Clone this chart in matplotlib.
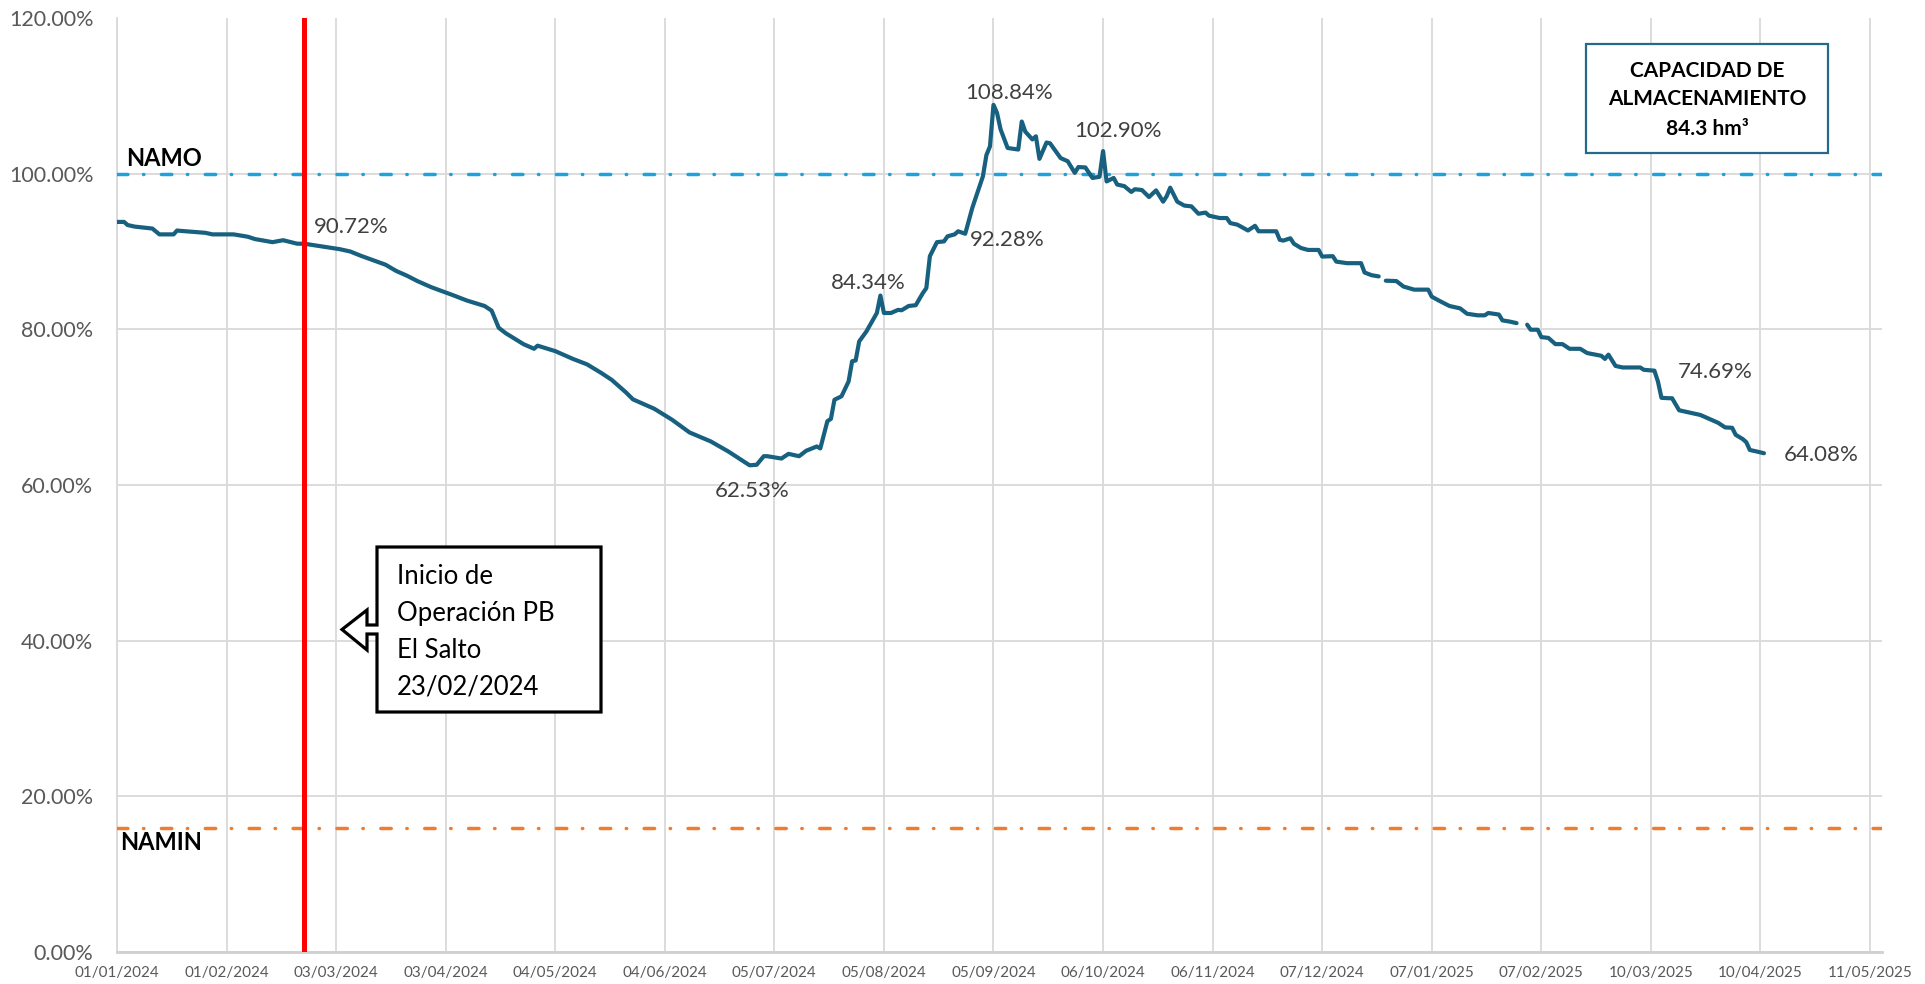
import matplotlib
matplotlib.use('Agg')
import matplotlib.pyplot as plt
import matplotlib.dates as mdates
import numpy as np
import pandas as pd
from matplotlib.patches import Polygon, Rectangle

plt.rcParams['font.family'] = ['Lato', 'DejaVu Sans']
plt.rcParams['lines.scale_dashes'] = False

# serie diaria de almacenamiento (% de la capacidad)
fechas = ['2024-01-01', '2024-01-03', '2024-01-04', '2024-01-06', '2024-01-11', '2024-01-13',
          '2024-01-17', '2024-01-18', '2024-01-19', '2024-01-26', '2024-01-28', '2024-02-03',
          '2024-02-07', '2024-02-09', '2024-02-14', '2024-02-17', '2024-02-21', '2024-02-23',
          '2024-02-27', '2024-03-04', '2024-03-07', '2024-03-10', '2024-03-14', '2024-03-17',
          '2024-03-20', '2024-03-23', '2024-03-26', '2024-03-30', '2024-04-05', '2024-04-09',
          '2024-04-14', '2024-04-16', '2024-04-18', '2024-04-20', '2024-04-25', '2024-04-28',
          '2024-04-29', '2024-05-04', '2024-05-09', '2024-05-13', '2024-05-17', '2024-05-20',
          '2024-05-24', '2024-05-26', '2024-06-01', '2024-06-06', '2024-06-11', '2024-06-17',
          '2024-06-22', '2024-06-28', '2024-06-30', '2024-07-02', '2024-07-03', '2024-07-07',
          '2024-07-09', '2024-07-12', '2024-07-14', '2024-07-17', '2024-07-18', '2024-07-20',
          '2024-07-21', '2024-07-22', '2024-07-24', '2024-07-26', '2024-07-27', '2024-07-28',
          '2024-07-29', '2024-07-31', '2024-08-02', '2024-08-03', '2024-08-04', '2024-08-05',
          '2024-08-07', '2024-08-09', '2024-08-10', '2024-08-12', '2024-08-14', '2024-08-16',
          '2024-08-17', '2024-08-18', '2024-08-20', '2024-08-22', '2024-08-23', '2024-08-25',
          '2024-08-26', '2024-08-28', '2024-08-30', '2024-09-02', '2024-09-03', '2024-09-04',
          '2024-09-05', '2024-09-06', '2024-09-07', '2024-09-09', '2024-09-12', '2024-09-13',
          '2024-09-14', '2024-09-16', '2024-09-17', '2024-09-18', '2024-09-20', '2024-09-21',
          '2024-09-24', '2024-09-26', '2024-09-28', '2024-09-29', '2024-10-01', '2024-10-03',
          '2024-10-05', '2024-10-06', '2024-10-07', '2024-10-09', '2024-10-10', '2024-10-12',
          '2024-10-14', '2024-10-15', '2024-10-17', '2024-10-19', '2024-10-21', '2024-10-23',
          '2024-10-24', '2024-10-25', '2024-10-27', '2024-10-29', '2024-10-31', '2024-11-02',
          '2024-11-04', '2024-11-05', '2024-11-08', '2024-11-10', '2024-11-11', '2024-11-13',
          '2024-11-16', '2024-11-18', '2024-11-19', '2024-11-24', '2024-11-25', '2024-11-26',
          '2024-11-28', '2024-11-29', '2024-12-01', '2024-12-03', '2024-12-06', '2024-12-07',
          '2024-12-10', '2024-12-11', '2024-12-14', '2024-12-18', '2024-12-19', '2024-12-21',
          '2024-12-23', '2024-12-24', '2024-12-25', '2024-12-28', '2024-12-30', '2025-01-02',
          '2025-01-06', '2025-01-07', '2025-01-09', '2025-01-12', '2025-01-15', '2025-01-17',
          '2025-01-20', '2025-01-22', '2025-01-23', '2025-01-26', '2025-01-27', '2025-01-29',
          '2025-01-31', '2025-02-01', '2025-02-02', '2025-02-03', '2025-02-04', '2025-02-06',
          '2025-02-07', '2025-02-09', '2025-02-11', '2025-02-13', '2025-02-15', '2025-02-18',
          '2025-02-20', '2025-02-24', '2025-02-25', '2025-02-26', '2025-02-28', '2025-03-02',
          '2025-03-07', '2025-03-08', '2025-03-11', '2025-03-12', '2025-03-13', '2025-03-15',
          '2025-03-16', '2025-03-18', '2025-03-21', '2025-03-24', '2025-03-26', '2025-03-29',
          '2025-03-31', '2025-04-02', '2025-04-03', '2025-04-05', '2025-04-06', '2025-04-07',
          '2025-04-09', '2025-04-11']
porcentaje = [93.8, 93.8, 93.4, 93.2, 92.95, 92.2,
              92.2, 92.7, 92.65, 92.4, 92.2, 92.2,
              91.9, 91.6, 91.2, 91.45, 91.0, 91.0,
              90.72, 90.3, 90.0, 89.45, 88.8, 88.3,
              87.5, 86.9, 86.2, 85.4, 84.4, 83.7,
              83.0, 82.4, 80.2, 79.5, 78.1, 77.5,
              77.9, 77.2, 76.2, 75.5, 74.4, 73.5,
              71.9, 71.0, 69.8, 68.4, 66.75, 65.6,
              64.3, 62.53, 62.6, 63.7, 63.7, 63.4,
              64.0, 63.7, 64.4, 64.95, 64.7, 68.2,
              68.5, 70.95, 71.4, 73.3, 75.9, 76.0,
              78.45, 79.7, 81.3, 82.1, 84.34, 82.1,
              82.1, 82.5, 82.45, 83.0, 83.1, 84.65,
              85.3, 89.4, 91.2, 91.3, 91.95, 92.2,
              92.6, 92.28, 95.6, 99.65, 102.4, 103.5,
              108.84, 107.8, 105.7, 103.3, 103.1, 106.7,
              105.4, 104.4, 104.8, 101.9, 104.0, 103.9,
              102.0, 101.6, 100.1, 100.85, 100.8, 99.45,
              99.6, 102.9, 99.0, 99.45, 98.6, 98.4,
              97.65, 98.0, 97.9, 97.0, 97.85, 96.4,
              97.1, 98.2, 96.4, 95.9, 95.8, 94.85,
              95.0, 94.6, 94.3, 94.3, 93.65, 93.45,
              92.7, 93.3, 92.6, 92.6, 91.5, 91.4,
              91.7, 91.0, 90.45, 90.2, 90.2, 89.35,
              89.4, 88.7, 88.5, 88.5, 87.3, 86.95,
              86.8, np.nan, 86.25, 86.2, 85.5, 85.1,
              85.1, 84.2, 83.7, 83.0, 82.7, 82.0,
              81.8, 81.8, 82.1, 81.9, 81.15, 81.0,
              80.8, np.nan, np.nan, 80.6, 79.95, 79.95,
              79.0, 78.9, 78.1, 78.1, 77.5, 77.5,
              76.95, 76.6, 76.2, 76.75, 75.3, 75.1,
              75.1, 74.8, 74.69, 73.3, 71.2, 71.15,
              71.15, 69.6, 69.3, 69.0, 68.6, 68.0,
              67.4, 67.35, 66.45, 65.9, 65.5, 64.5,
              64.3, 64.08]

fechas_ticks = ['2024-01-01', '2024-02-01', '2024-03-03', '2024-04-03', '2024-05-04', '2024-06-04',
                '2024-07-05', '2024-08-05', '2024-09-05', '2024-10-06', '2024-11-06', '2024-12-07',
                '2025-01-07', '2025-02-07', '2025-03-10', '2025-04-10', '2025-05-11']
y_ticks = [0, 20, 40, 60, 80, 100, 120]

namo = 100.0
namin = 15.9
inicio_pb = '2024-02-23'

# puntos etiquetados
etiquetas_fecha = ['2024-02-27', '2024-06-28', '2024-08-04', '2024-09-05',
                   '2024-08-28', '2024-10-06', '2025-03-11', '2025-04-11']
etiquetas_valor = [90.72, 62.53, 84.34, 108.84, 92.28, 102.90, 74.69, 64.08]
etiquetas_offset = [(-5, 19), (2, -26), (-12, 13), (16, 12), (42, -6), (15, 20), (61, -1), (57, -2)]
etiquetas_ha = ['left', 'center', 'center', 'center', 'center', 'center', 'center', 'center']

W, H = 1925, 984
def px(x, y):
    return (x / W, 1 - y / H)

fig = plt.figure(figsize=(W / 100, H / 100), dpi=100)
ax = fig.add_axes([117 / W, 1 - 952 / H, (1882 - 117) / W, (952 - 18) / H])

x = pd.to_datetime(fechas)
ax.plot(x, porcentaje, color='#17607f', lw=3.0, solid_joinstyle='round',
        solid_capstyle='round', zorder=4)

# NAMO / NAMIN
ax.axhline(namo, color='#1da2dc', lw=2.5, dashes=(7.5, 11.2, 0.3, 12.6),
           dash_capstyle='round', zorder=3)
ax.axhline(namin, color='#ee7d31', lw=2.5, dashes=(7.5, 11.2, 0.3, 12.6),
           dash_capstyle='round', zorder=3)

# inicio de operacion
ax.axvline(pd.Timestamp(inicio_pb), color='#ff0000', lw=3.6, zorder=5)

for f, v, off, ha in zip(etiquetas_fecha, etiquetas_valor, etiquetas_offset, etiquetas_ha):
    ax.annotate('{:.2f}%'.format(v), xy=(pd.Timestamp(f), v), xytext=off,
                textcoords='offset pixels', ha=ha, va='center',
                fontsize=16, color='#404040', zorder=6)

ax.set_ylim(0, 120)
ax.set_xlim(pd.Timestamp('2024-01-01'), pd.Timestamp('2024-01-01') + pd.Timedelta(days=499.4))
ax.set_yticks(y_ticks)
ax.set_yticklabels(['{:.2f}%'.format(v) for v in y_ticks])
ax.set_xticks(pd.to_datetime(fechas_ticks))
ax.xaxis.set_major_formatter(mdates.DateFormatter('%d/%m/%Y'))
ax.tick_params(axis='y', length=0, pad=17, labelsize=15.5, labelcolor='#595959')
ax.tick_params(axis='x', length=0, pad=10, labelsize=11, labelcolor='#595959')

ax.grid(True, color='#d9d9d9', lw=1.3, zorder=0)
ax.set_axisbelow(True)
ax.yaxis.get_gridlines()[-1].set_visible(False)
for s in ['top', 'right']:
    ax.spines[s].set_visible(False)
ax.spines['left'].set_color('#d9d9d9')
ax.spines['left'].set_linewidth(1.3)
ax.spines['bottom'].set_color('#d0d0d0')
ax.spines['bottom'].set_linewidth(2)

fig.text(*px(126, 159), 'NAMO', fontsize=17, fontweight='bold', color='black', va='center')
fig.text(*px(120, 843), 'NAMIN', fontsize=17, fontweight='bold', color='black', va='center')

# recuadro de capacidad
x0, y0, x1, y1 = 1586, 44, 1828, 153
fig.patches.append(Rectangle(px(x0, y1), (x1 - x0) / W, (y1 - y0) / H, transform=fig.transFigure,
                             facecolor='white', edgecolor='#236a8c', lw=1.6, zorder=10))
fig.text(*px(1707, 71), 'CAPACIDAD DE', fontsize=15, fontweight='bold', ha='center', va='center', zorder=11)
fig.text(*px(1707, 99), 'ALMACENAMIENTO', fontsize=15, fontweight='bold', ha='center', va='center', zorder=11)
fig.text(*px(1707, 129), '84.3 hm\u00b3', fontsize=15, fontweight='bold', ha='center', va='center', zorder=11)

# flecha de llamada
forma = [(377, 547), (601, 547), (601, 712), (377, 712), (377, 634), (367, 634), (367, 650),
         (342, 629.5), (367, 610), (367, 625), (377, 625)]
fig.patches.append(Polygon([px(a, b) for a, b in forma], closed=True, transform=fig.transFigure,
                           facecolor='white', edgecolor='black', lw=2.3, joinstyle='miter', zorder=10))
for i, t in enumerate(['Inicio de', 'Operación PB', 'El Salto', '23/02/2024']):
    fig.text(*px(397, 577 + 36.5 * i), t, fontsize=18.5, color='black', va='center', zorder=11)

fig.savefig('out.png', dpi=100)
